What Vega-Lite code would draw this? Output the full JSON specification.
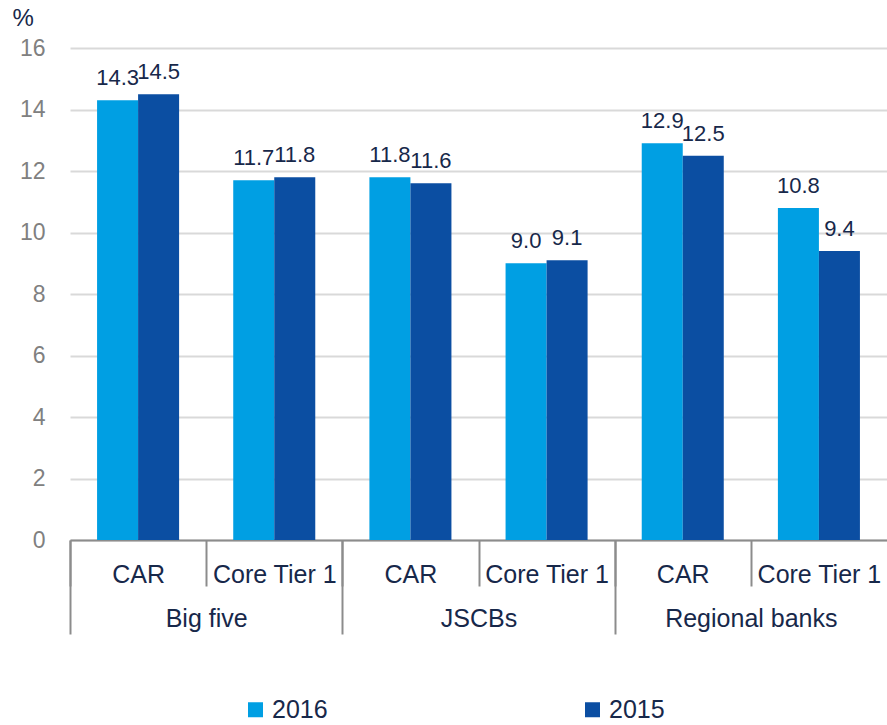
{
  "$schema": "https://vega.github.io/schema/vega-lite/v6.json",
  "autosize": {"type": "none"},
  "padding": {"left": 70, "top": 48, "right": 0, "bottom": 185},
  "width": 817,
  "height": 492,
  "config": {
    "view": {"stroke": null},
    "font": "Liberation Sans",
    "text": {"font": "Liberation Sans"}
  },
  "data": {
    "values": [
      {"group": "Big five", "sub": "CAR", "key": "Big five|CAR", "year": "2016", "value": 14.3},
      {"group": "Big five", "sub": "CAR", "key": "Big five|CAR", "year": "2015", "value": 14.5},
      {"group": "Big five", "sub": "Core Tier 1", "key": "Big five|Core Tier 1", "year": "2016", "value": 11.7},
      {"group": "Big five", "sub": "Core Tier 1", "key": "Big five|Core Tier 1", "year": "2015", "value": 11.8},
      {"group": "JSCBs", "sub": "CAR", "key": "JSCBs|CAR", "year": "2016", "value": 11.8},
      {"group": "JSCBs", "sub": "CAR", "key": "JSCBs|CAR", "year": "2015", "value": 11.6},
      {"group": "JSCBs", "sub": "Core Tier 1", "key": "JSCBs|Core Tier 1", "year": "2016", "value": 9.0},
      {"group": "JSCBs", "sub": "Core Tier 1", "key": "JSCBs|Core Tier 1", "year": "2015", "value": 9.1},
      {"group": "Regional banks", "sub": "CAR", "key": "Regional banks|CAR", "year": "2016", "value": 12.9},
      {"group": "Regional banks", "sub": "CAR", "key": "Regional banks|CAR", "year": "2015", "value": 12.5},
      {"group": "Regional banks", "sub": "Core Tier 1", "key": "Regional banks|Core Tier 1", "year": "2016", "value": 10.8},
      {"group": "Regional banks", "sub": "Core Tier 1", "key": "Regional banks|Core Tier 1", "year": "2015", "value": 9.4}
    ]
  },
  "layer": [
    {
      "encoding": {
        "x": {
          "field": "key",
          "type": "nominal",
          "sort": ["Big five|CAR", "Big five|Core Tier 1", "JSCBs|CAR", "JSCBs|Core Tier 1", "Regional banks|CAR", "Regional banks|Core Tier 1"],
          "scale": {"paddingInner": 0, "paddingOuter": 0},
          "axis": {
            "orient": "bottom",
            "title": null,
            "domain": true,
            "domainColor": "#8c8c8c",
            "domainWidth": 2,
            "ticks": true,
            "tickBand": "extent",
            "tickSize": 46,
            "tickWidth": 2,
            "tickColor": {"condition": {"test": "datum.index === 1", "value": "transparent"}, "value": "#8c8c8c"},
            "labelExpr": "split(datum.value, '|')[1]",
            "labelAngle": 0,
            "labelFontSize": 25,
            "labelFont": "Liberation Sans",
            "labelColor": "#17284a",
            "labelPadding": -24,
            "labelBaseline": "top",
            "grid": false
          }
        },
        "xOffset": {
          "field": "year",
          "type": "nominal",
          "sort": ["2016", "2015"],
          "scale": {"paddingInner": 0, "paddingOuter": 0.66}
        },
        "y": {
          "field": "value",
          "type": "quantitative",
          "scale": {"domain": [0, 16], "nice": false},
          "axis": {
            "values": [0, 2, 4, 6, 8, 10, 12, 14, 16],
            "domain": false,
            "ticks": false,
            "grid": true,
            "gridColor": "#d9d9d9",
            "gridWidth": 2,
            "labelFontSize": 23,
            "labelFont": "Liberation Sans",
            "labelColor": "#808080",
            "labelPadding": 25,
            "title": "%",
            "titleAngle": 0,
            "titleX": -58,
            "titleY": -42,
            "titleAlign": "left",
            "titleBaseline": "top",
            "titleFontSize": 24,
            "titleFontWeight": "normal",
            "titleFont": "Liberation Sans",
            "titleColor": "#17284a"
          }
        }
      },
      "layer": [
        {
          "mark": {"type": "bar"},
          "encoding": {
            "color": {
              "field": "year",
              "type": "nominal",
              "scale": {"domain": ["2016", "2015"], "range": ["#009fe3", "#0b4ea2"]},
              "legend": {
                "title": null,
                "orient": "none",
                "legendX": 173,
                "legendY": 649,
                "direction": "horizontal",
                "symbolType": "square",
                "symbolSize": 225,
                "symbolStrokeWidth": 0,
                "labelFontSize": 25,
                "labelFont": "Liberation Sans",
                "labelColor": "#17284a",
                "labelOffset": 4,
                "columnPadding": 252
              }
            }
          }
        },
        {
          "mark": {"type": "text", "baseline": "alphabetic", "dy": -15, "fontSize": 22, "font": "Liberation Sans", "color": "#17284a"},
          "encoding": {
            "text": {"field": "value", "type": "quantitative", "format": ".1f"}
          }
        }
      ]
    },
    {
      "mark": {"type": "point", "opacity": 0},
      "encoding": {
        "x": {
          "field": "group",
          "type": "nominal",
          "sort": ["Big five", "JSCBs", "Regional banks"],
          "scale": {"paddingInner": 0, "paddingOuter": 0},
          "axis": {
            "orient": "bottom",
            "title": null,
            "domain": false,
            "ticks": true,
            "tickBand": "extent",
            "tickSize": 94,
            "tickWidth": 2,
            "tickColor": {"condition": {"test": "datum.index === 1", "value": "transparent"}, "value": "#8c8c8c"},
            "labelAngle": 0,
            "labelFontSize": 25,
            "labelFont": "Liberation Sans",
            "labelColor": "#17284a",
            "labelPadding": -28,
            "labelBaseline": "top",
            "grid": false
          }
        }
      }
    }
  ],
  "resolve": {"scale": {"x": "independent"}, "axis": {"x": "independent"}}
}
